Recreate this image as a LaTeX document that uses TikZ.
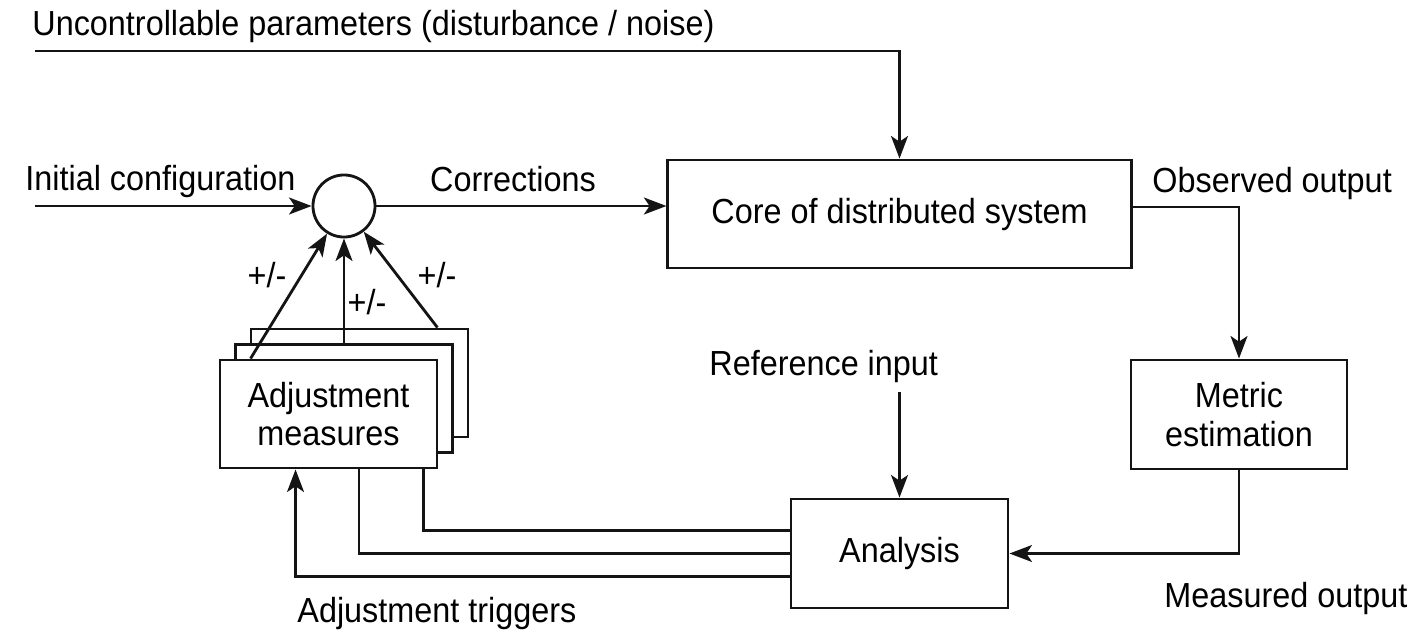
\documentclass[tikz,border=0pt]{standalone}
\usepackage{fontspec}
\setmainfont[FakeStretch=0.93]{Liberation Sans}
\usetikzlibrary{arrows.meta,calc}
\definecolor{LineClr}{rgb}{0.08,0.08,0.08}

\begin{document}
\begin{tikzpicture}[x=0.01cm,y=-0.01cm,line width=0.8pt,draw=LineClr,
  every node/.style={font=\fontsize{9.9}{11}\selectfont},
  block/.style={draw=LineClr,fill=white,align=center,inner sep=0pt,
    minimum width=2.17cm,minimum height=1.08cm},
  sum/.style={draw=LineClr,circle,inner sep=0pt,minimum size=0.62cm},
  lbl/.style={inner sep=0pt},
  flow/.style={-{Stealth[length=6.4pt,width=4.8pt,inset=1.6pt]}}]
\useasboundingbox (0,0) rectangle (1424,636);

\node[block,minimum width=4.63cm] (core) at (899.5,214) {Core of distributed system};
\node[block,minimum width=2.16cm,minimum height=1.09cm] (metric) at (1239,414.5) {Metric\\estimation};
\node[block,minimum height=1.09cm] (analysis) at (899.5,553.5) {Analysis};
\node[block] (adjback) at (359.5,383) {};
\node[block] (adjmid) at (344,398.5) {};
\node[block] (adj) at (328.5,414) {Adjustment\\measures};
\node[sum] (sum) at (344,206) {};

\coordinate (unc) at (35,51);
\coordinate (init) at (35,206);
\coordinate (refin) at (899.5,392);

% inputs and main path
\draw[flow] (unc) -| (core.north);
\draw[flow] (init) -- (sum);
\draw[flow] (sum) -- (sum -| core.west);
\draw[flow] ($(core.east)+(0,-7)$) -| (metric.north);
\draw[flow] (metric.south) |- (analysis.east);
\draw[flow] (refin) -- (analysis.north);

% feedback
\draw[flow] ($(adj.north west)+(32,0)$) -- (sum);
\draw[flow] (adjmid.north) -- (sum);
\draw[flow] ($(adjback.north east)+(-32,0)$) -- (sum);
\draw ($(analysis.west)+(0,-23)$) -| ($(adj.south east)+(-15,0)$);
\draw (analysis.west) -| ($(adj.south)+(30.5,0)$);
\draw[flow] ($(analysis.west)+(0,23)$) -| ($(adj.south west)+(77,0)$);

\node[lbl,anchor=base west] (unclbl) at (31,35) {Uncontrollable parameters (disturbance / noise)};
\node[lbl,anchor=base west] (initlbl) at (24,190) {Initial configuration};
\node[lbl,anchor=base] (corrlbl) at (513,191) {Corrections};
\node[lbl,anchor=base west] (obslbl) at (1151,192) {Observed output};
\node[lbl,anchor=base west] (measlbl) at (1163,607) {Measured output};
\node[lbl,anchor=base west] (reflbl) at (708,375) {Reference input};
\node[lbl,anchor=base west] (triglbl) at (296,622) {Adjustment triggers};
\node[lbl] (pmleft) at (267,275) {+/-};
\node[lbl] (pmmid) at (367,302) {+/-};
\node[lbl] (pmright) at (437,275) {+/-};
\end{tikzpicture}
\end{document}
